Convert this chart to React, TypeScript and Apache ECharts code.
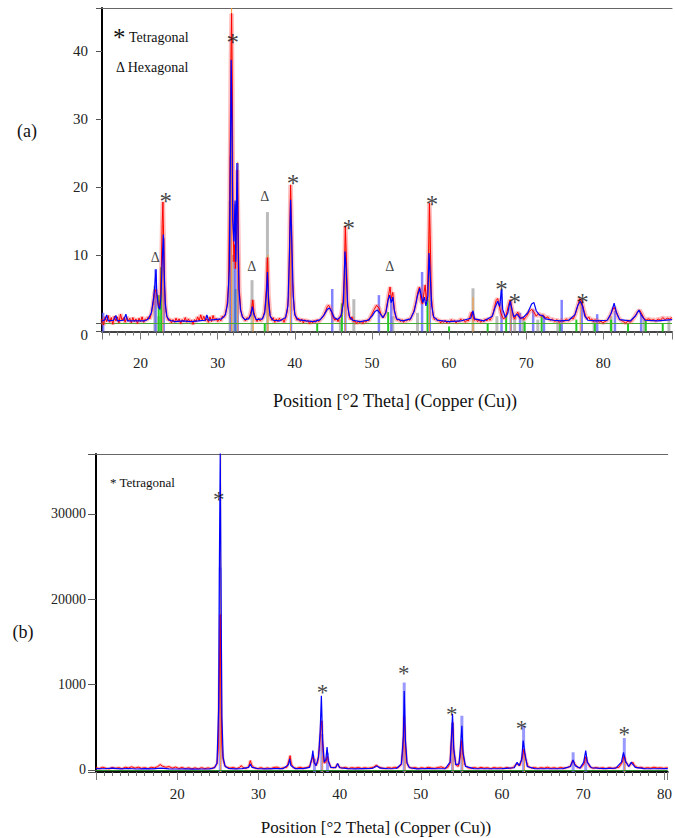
import React, { useEffect, useRef } from 'react';
import * as echarts from 'echarts';

const SERIF = '"Liberation Serif", "Times New Roman", serif';

// ---------- (a) top pattern ----------
const topMeasured: number[][] = [
  [15.0,0.6],[15.2,-0.3],[15.4,0.9],[15.6,0.2],[15.8,1.1],[16.0,0.1],[16.2,0.8],[16.4,-0.2],[16.6,1.0],[16.8,0.3],[17.0,0.9],[17.2,0.0],[17.4,1.3],[17.6,0.4],[17.8,0.8],[18.0,0.1],[18.2,0.9],[18.4,0.3],[18.6,0.7],[18.8,0.0],[19.0,0.8],[19.2,0.2],[19.4,0.6],[19.6,-0.1],[19.8,0.7],[20.0,0.2],[20.2,0.9],[20.4,0.1],[20.6,0.6],[20.8,0.4],[21.0,0.9],[21.2,0.6],[21.4,1.4],[21.6,2.6],[21.8,4.4],[21.95,4.9],[22.1,4.2],[22.25,3.0],[22.4,2.2],[22.55,3.5],[22.7,8.5],[22.8,14.5],[22.9,17.8],[23.0,12.0],[23.1,5.5],[23.25,2.0],[23.4,1.0],[23.6,0.4],[23.8,0.6],[24.0,0.0],[24.2,0.5],[24.4,0.1],[24.6,0.7],[24.8,0.2],[25.0,0.6],[25.2,-0.1],[25.4,0.5],[25.6,0.2],[25.8,0.8],[26.0,0.1],[26.2,0.6],[26.4,0.2],[26.6,0.4],[26.8,-0.2],[27.0,0.5],[27.2,0.2],[27.4,0.9],[27.6,0.3],[27.8,1.2],[28.0,0.4],[28.2,1.0],[28.4,0.3],[28.6,0.6],[28.8,0.1],[29.0,0.9],[29.2,0.2],[29.4,1.1],[29.6,0.4],[29.8,0.7],[30.0,0.2],[30.2,0.6],[30.4,0.3],[30.6,1.0],[30.8,0.8],[31.0,1.4],[31.2,2.5],[31.4,5.5],[31.55,18.0],[31.7,38.0],[31.8,45.5],[31.9,35.0],[32.0,14.0],[32.1,9.0],[32.2,11.5],[32.3,8.0],[32.45,14.0],[32.55,22.5],[32.65,15.0],[32.8,5.0],[33.0,1.8],[33.2,1.0],[33.4,0.7],[33.6,0.3],[33.8,0.8],[34.0,0.6],[34.2,1.2],[34.4,2.1],[34.55,3.4],[34.7,1.6],[34.9,0.6],[35.1,0.2],[35.3,0.7],[35.5,0.3],[35.7,0.5],[35.9,0.9],[36.1,1.8],[36.3,5.0],[36.45,9.6],[36.6,4.0],[36.8,1.1],[37.0,0.4],[37.2,0.8],[37.4,0.1],[37.6,0.6],[37.8,0.2],[38.0,0.7],[38.2,0.3],[38.4,0.6],[38.6,0.1],[38.8,0.8],[39.0,1.6],[39.2,4.0],[39.35,14.5],[39.45,20.3],[39.55,16.0],[39.7,6.0],[39.9,2.0],[40.1,0.9],[40.3,0.4],[40.5,0.7],[40.7,0.2],[40.9,0.6],[41.1,0.0],[41.3,0.5],[41.5,0.2],[41.7,0.4],[41.9,-0.1],[42.1,0.3],[42.3,0.0],[42.5,0.4],[42.7,0.1],[42.9,0.5],[43.1,0.2],[43.4,0.6],[43.7,1.0],[44.0,1.8],[44.2,2.4],[44.4,2.6],[44.6,2.1],[44.8,1.4],[45.0,0.8],[45.2,0.4],[45.4,0.7],[45.6,0.2],[45.8,0.8],[46.0,1.2],[46.2,2.5],[46.4,6.5],[46.55,14.2],[46.7,9.0],[46.85,3.0],[47.0,1.2],[47.2,0.5],[47.4,0.9],[47.6,0.2],[47.8,0.3],[48.0,-0.1],[48.2,0.3],[48.4,0.0],[48.6,0.3],[48.8,-0.1],[49.0,0.4],[49.2,0.1],[49.4,0.5],[49.6,0.3],[49.8,0.9],[50.0,1.3],[50.3,2.0],[50.6,2.6],[50.9,2.2],[51.2,1.2],[51.5,0.8],[51.8,1.6],[52.0,3.0],[52.2,4.4],[52.35,5.3],[52.5,3.6],[52.7,4.5],[52.9,2.0],[53.1,0.8],[53.3,0.4],[53.5,0.6],[53.7,0.2],[53.9,0.5],[54.1,0.1],[54.3,0.4],[54.5,0.3],[54.7,0.6],[54.9,0.4],[55.1,0.9],[55.4,1.6],[55.7,3.0],[55.95,4.6],[56.15,5.3],[56.35,3.4],[56.55,2.8],[56.75,4.5],[56.9,5.6],[57.05,3.2],[57.2,5.0],[57.35,11.0],[57.45,17.6],[57.55,13.0],[57.7,4.0],[57.9,1.2],[58.1,0.5],[58.3,0.7],[58.5,0.3],[58.7,0.5],[58.9,0.0],[59.1,0.3],[59.3,0.1],[59.5,0.4],[59.7,0.0],[59.9,0.3],[60.1,0.1],[60.3,0.5],[60.5,0.2],[60.7,0.4],[60.9,0.0],[61.1,0.3],[61.3,0.2],[61.5,0.6],[61.7,0.3],[61.9,0.5],[62.1,0.1],[62.3,0.4],[62.5,0.3],[62.7,0.9],[62.9,1.6],[63.1,1.0],[63.3,0.4],[63.5,0.6],[63.7,0.2],[63.9,0.5],[64.1,0.1],[64.3,0.4],[64.5,0.2],[64.7,0.6],[64.9,0.3],[65.1,0.7],[65.3,0.4],[65.5,0.8],[65.7,1.4],[65.9,2.4],[66.1,3.3],[66.3,3.6],[66.5,2.6],[66.7,1.5],[66.9,0.9],[67.1,0.6],[67.3,0.9],[67.5,1.6],[67.7,2.6],[67.9,3.4],[68.1,2.4],[68.3,1.0],[68.5,0.6],[68.7,1.2],[68.9,1.6],[69.1,1.0],[69.3,0.6],[69.5,0.9],[69.7,0.5],[69.9,0.8],[70.1,1.1],[70.4,1.7],[70.7,2.0],[71.0,1.6],[71.3,1.0],[71.6,1.4],[71.9,1.0],[72.2,1.2],[72.5,0.7],[72.8,0.9],[73.1,0.4],[73.4,0.6],[73.7,0.2],[74.0,0.5],[74.3,0.1],[74.6,0.4],[74.9,0.2],[75.2,0.6],[75.5,0.3],[75.8,0.7],[76.1,0.6],[76.4,1.4],[76.7,2.6],[76.95,3.6],[77.2,3.2],[77.45,2.0],[77.7,1.0],[77.9,0.6],[78.1,0.9],[78.3,0.4],[78.5,0.6],[78.7,0.2],[78.9,0.5],[79.1,0.3],[79.3,0.4],[79.5,0.1],[79.7,0.3],[79.9,0.0],[80.2,0.2],[80.5,0.4],[80.8,0.9],[81.1,1.7],[81.4,2.3],[81.7,1.6],[82.0,0.7],[82.3,0.4],[82.6,0.2],[82.9,0.0],[83.2,0.3],[83.5,0.1],[83.8,0.5],[84.1,1.0],[84.4,1.6],[84.7,1.9],[85.0,1.3],[85.3,0.6],[85.6,0.5],[85.9,0.6],[86.2,0.4],[86.5,0.5],[86.8,0.3],[87.1,0.6],[87.4,0.4],[87.7,0.8],[88.0,0.5],[88.3,0.7],[88.6,0.6],[88.9,0.8],
];

const topCalculated: number[][] = [
  [15.0,0.3],[15.4,0.5],[15.6,1.2],[15.8,0.3],[16.5,0.4],[16.8,1.1],[17.0,0.3],[17.8,0.4],[18.1,1.3],[18.3,0.3],[19.5,0.3],[20.5,0.3],[21.0,0.6],[21.4,1.5],[21.7,3.8],[21.85,5.5],[22.0,7.9],[22.1,4.5],[22.3,2.5],[22.5,2.0],[22.65,4.0],[22.8,9.0],[22.95,13.0],[23.05,8.0],[23.2,3.0],[23.4,1.0],[23.7,0.4],[24.5,0.2],[25.5,0.3],[26.5,0.2],[27.5,0.3],[28.4,0.4],[28.6,1.2],[28.8,0.4],[29.6,0.5],[30.5,0.6],[31.0,1.2],[31.3,3.0],[31.5,8.0],[31.65,24.5],[31.75,38.7],[31.85,30.0],[31.95,15.0],[32.1,12.0],[32.25,18.0],[32.35,9.0],[32.5,23.5],[32.6,16.0],[32.75,5.0],[32.95,2.0],[33.2,0.9],[33.5,0.5],[34.0,0.6],[34.3,1.2],[34.5,2.4],[34.7,1.2],[35.0,0.5],[35.8,0.6],[36.1,1.5],[36.3,4.0],[36.45,7.5],[36.6,3.0],[36.8,1.0],[37.2,0.4],[38.0,0.3],[38.8,0.8],[39.1,2.5],[39.3,10.0],[39.45,18.1],[39.6,12.0],[39.8,4.0],[40.0,1.2],[40.4,0.5],[41.5,0.3],[42.5,0.2],[43.3,0.5],[43.8,1.2],[44.2,2.0],[44.5,2.2],[44.8,1.6],[45.1,0.8],[45.5,0.5],[46.0,1.0],[46.3,3.0],[46.5,10.5],[46.65,8.0],[46.85,2.5],[47.1,0.9],[47.5,0.4],[48.5,0.2],[49.5,0.4],[50.0,1.0],[50.4,1.7],[50.7,1.9],[51.0,1.5],[51.4,0.8],[51.8,1.5],[52.1,3.4],[52.3,4.1],[52.5,3.0],[52.7,3.8],[52.9,1.8],[53.2,0.6],[54.0,0.3],[55.0,0.6],[55.5,1.8],[55.9,4.0],[56.2,5.1],[56.4,4.0],[56.6,3.0],[56.8,3.8],[57.0,2.5],[57.25,4.0],[57.4,10.3],[57.55,7.0],[57.75,2.5],[58.0,0.9],[58.5,0.4],[60.0,0.2],[61.5,0.3],[62.8,0.7],[63.1,1.8],[63.3,0.6],[64.5,0.3],[65.6,1.0],[66.0,2.4],[66.3,3.2],[66.55,2.4],[66.8,4.9],[66.95,2.0],[67.3,0.8],[67.6,1.4],[67.9,3.2],[68.15,2.0],[68.4,0.9],[68.8,1.3],[69.2,0.7],[69.6,0.8],[70.2,1.5],[70.7,2.8],[71.0,3.0],[71.3,1.8],[71.7,1.2],[72.1,1.1],[72.5,0.6],[73.5,0.4],[74.5,0.3],[75.5,0.4],[76.3,1.2],[76.7,2.6],[77.0,3.2],[77.3,2.5],[77.6,1.0],[78.0,0.4],[79.0,0.3],[80.5,0.4],[81.0,1.4],[81.4,2.9],[81.7,1.5],[82.1,0.5],[83.5,0.3],[84.2,1.1],[84.6,1.9],[84.9,1.2],[85.4,0.4],[87.0,0.3],[88.9,0.5],
];

const topOrangeSticks: number[][] = [
  [22.9,14.5],[31.8,47],[32.6,23.7],[34.6,3.0],[36.5,10.0],[39.45,20.3],[46.55,14.2],[57.45,17.6],[63.1,3.8],[68.0,3.0],[77.0,3.5],
];
const topBlueSticks: number[][] = [
  [15.15,1.5],[21.95,7.9],[23.0,12.5],[31.7,24.5],[32.25,17.5],[32.6,23.5],[39.5,14.5],[44.85,5.0],[46.55,10.5],[50.9,4.1],[52.5,3.5],[56.5,7.5],[57.5,10.0],[66.8,4.9],[68.0,3.2],[69.2,1.5],[70.9,2.0],[72.3,1.0],[74.6,3.4],[77.2,3.3],[79.2,1.3],[81.5,1.8],[84.9,1.3],
];
const topGreySticks: number[][] = [
  [21.85,5.5],[22.35,1.0],[31.6,18.0],[32.0,10.0],[34.45,6.3],[36.45,16.3],[45.9,0.5],[47.65,3.5],[52.7,1.0],[55.9,1.5],[63.1,5.1],[66.2,1.0],[68.5,1.2],[69.6,0.8],[71.5,0.5],[74.1,0.3],[78.8,0.5],[81.0,1.0],[85.3,0.5],[88.5,0.4],
];
const topGreenSticks: number[][] = [
  [22.35,4.1],[22.67,8.2],[32.3,5.0],[36.1,0.0],[42.9,0.0],[46.1,2.9],[52.1,1.6],[57.2,3.6],[60.0,-0.5],[65.0,0.0],[67.4,1.0],[69.8,0.2],[72.0,1.0],[74.4,0.0],[76.5,0.5],[78.9,0.0],[81.0,0.5],[83.2,0.0],[85.5,0.3],[87.7,0.0],
];
const topStars: number[][] = [
  [23.25,18.6],[31.95,42.0],[39.75,21.2],[47.0,14.6],[57.8,18.1],[66.8,5.6],[68.5,3.8],[77.3,3.8],
];
const topDeltas: number[][] = [
  [21.9,9.6],[34.4,8.3],[36.1,18.6],[52.3,8.3],
];

// ---------- (b) bottom pattern ----------
const bottomMeasured: number[][] = [
  [10.0,250],[10.4,150],[10.8,300],[11.2,200],[11.6,120],[12.0,280],[12.4,180],[12.8,260],[13.2,140],[13.6,300],[14.0,220],[14.4,360],[14.8,200],[15.2,320],[15.6,180],[16.0,260],[16.4,150],[16.8,300],[17.2,230],[17.6,380],[17.9,620],[18.2,420],[18.6,300],[19.0,380],[19.4,200],[19.8,330],[20.2,160],[20.6,280],[21.0,140],[21.4,250],[21.8,120],[22.2,240],[22.6,110],[23.0,260],[23.4,140],[23.8,230],[24.2,150],[24.6,300],[24.9,700],[25.05,2400],[25.2,12000],[25.3,18200],[25.4,9000],[25.5,3000],[25.65,1200],[25.85,500],[26.1,330],[26.5,200],[26.9,280],[27.3,150],[27.7,300],[27.9,500],[28.1,260],[28.5,180],[28.8,400],[29.0,1090],[29.2,500],[29.5,250],[29.9,150],[30.3,260],[30.7,140],[31.1,230],[31.5,150],[31.9,280],[32.3,320],[32.7,160],[33.1,250],[33.5,300],[33.75,1100],[33.9,1670],[34.05,700],[34.3,260],[34.7,180],[35.1,300],[35.5,200],[35.9,260],[36.3,400],[36.6,1200],[36.75,1670],[36.9,800],[37.1,500],[37.3,900],[37.5,2500],[37.65,4500],[37.8,5750],[37.95,2300],[38.1,800],[38.3,900],[38.5,1560],[38.65,900],[38.9,320],[39.2,250],[39.5,300],[39.75,700],[39.95,350],[40.3,200],[40.7,300],[41.1,160],[41.5,260],[41.9,200],[42.3,280],[42.7,170],[43.1,250],[43.5,180],[43.9,260],[44.2,320],[44.5,550],[44.8,350],[45.2,220],[45.6,160],[46.0,270],[46.4,190],[46.8,300],[47.2,250],[47.6,600],[47.8,2500],[47.95,6340],[48.1,3000],[48.25,900],[48.5,350],[48.9,200],[49.3,270],[49.7,150],[50.1,260],[50.5,170],[50.9,300],[51.3,220],[51.7,180],[52.1,270],[52.5,350],[52.9,200],[53.3,260],[53.6,800],[53.8,4000],[53.92,5560],[54.05,2400],[54.3,600],[54.6,400],[54.85,1500],[55.0,3420],[55.15,2200],[55.4,600],[55.8,250],[56.2,200],[56.6,280],[57.0,170],[57.4,290],[57.8,200],[58.2,260],[58.6,150],[59.0,270],[59.4,200],[59.8,250],[60.2,170],[60.6,280],[61.0,180],[61.4,300],[61.8,700],[62.0,600],[62.2,500],[62.5,1500],[62.7,2450],[62.9,1300],[63.2,400],[63.6,220],[64.0,280],[64.4,170],[64.8,260],[65.2,200],[65.6,300],[66.0,180],[66.4,250],[66.8,170],[67.2,280],[67.6,200],[68.0,260],[68.4,400],[68.7,1100],[68.95,700],[69.3,280],[69.7,250],[70.1,700],[70.3,1550],[70.5,900],[70.8,350],[71.2,200],[71.6,270],[72.0,180],[72.4,250],[72.8,150],[73.2,270],[73.6,170],[74.0,250],[74.4,300],[74.8,900],[75.05,1670],[75.25,900],[75.6,400],[75.9,700],[76.1,900],[76.3,500],[76.7,250],[77.1,300],[77.5,180],[77.9,260],[78.3,200],[78.7,300],[79.1,220],[79.5,250],[79.9,180],[80.4,250],
];

const bottomCalculated: number[][] = [
  [10.0,150],[11.0,130],[12.0,200],[13.0,110],[14.0,160],[15.0,100],[16.0,150],[17.0,120],[18.0,200],[19.0,120],[20.0,100],[21.0,120],[22.0,80],[23.0,100],[24.0,120],[24.6,250],[24.9,800],[25.1,7200],[25.2,25000],[25.3,37500],[25.4,20000],[25.5,6300],[25.65,1500],[25.9,400],[26.3,180],[27.0,120],[28.0,150],[28.8,300],[29.0,700],[29.2,300],[30.0,130],[31.0,110],[32.0,150],[33.0,140],[33.7,600],[33.85,1300],[34.0,500],[34.5,150],[35.5,140],[36.3,300],[36.6,1500],[36.7,2250],[36.85,900],[37.1,500],[37.4,1500],[37.6,4500],[37.75,8670],[37.9,3500],[38.1,900],[38.3,1200],[38.45,2680],[38.6,1100],[38.9,300],[39.5,250],[39.75,750],[40.0,250],[41.0,140],[42.0,120],[43.0,150],[44.0,160],[44.6,450],[45.0,200],[46.0,130],[47.0,160],[47.6,700],[47.85,4000],[47.95,9250],[48.1,3500],[48.3,800],[48.6,250],[49.5,120],[51.0,160],[52.0,130],[53.0,150],[53.6,900],[53.8,4500],[53.9,6530],[54.05,2500],[54.3,600],[54.7,700],[54.9,3000],[55.05,5170],[55.2,2000],[55.5,400],[56.5,150],[58.0,130],[60.0,150],[61.5,250],[61.85,900],[62.1,500],[62.4,1200],[62.6,3420],[62.8,2000],[63.1,400],[64.0,150],[66.0,130],[67.5,150],[68.4,400],[68.75,1150],[69.0,500],[69.6,200],[70.05,900],[70.3,2250],[70.5,900],[71.0,250],[72.5,140],[74.0,200],[74.7,900],[74.95,2060],[75.2,1000],[75.6,400],[75.9,900],[76.05,700],[76.4,300],[77.5,150],[79.0,130],[80.4,150],
];

const bottomBlueSticks: number[][] = [
  [25.3,23700],[36.9,1300],[37.8,4200],[38.5,2000],[47.95,10230],[53.9,5500],[55.05,6340],[62.65,5170],[68.75,2060],[70.3,1500],[75.05,3730],
];
const bottomOrangeSticks: number[][] = [
  [25.35,38000],[37.85,1700],[48.05,3000],[53.95,2000],[55.1,2500],[62.75,1800],[75.1,1200],
];
const bottomStars: number[][] = [
  [25.1,32200],[37.9,9650],[47.9,11900],[53.8,7050],[62.4,5400],[75.05,4700],
];

// ---------- axis labels ----------
const topXTickLabels = [20, 30, 40, 50, 60, 70, 80];
const topYTickLabels = [0, 10, 20, 30, 40];
const bottomXTickLabels = [20, 30, 40, 50, 60, 70, 80];
const bottomYTickLabels: Record<number, string> = { 0: '0', 10000: '1000', 20000: '20000', 30000: '30000' };
const xTitle = 'Position [°2 Theta] (Copper (Cu))';

function stickSeries(data: number[][], color: string, width: number, gi: number, z: number) {
  return {
    type: 'custom',
    xAxisIndex: gi * 3,
    yAxisIndex: gi,
    data,
    encode: { x: 0, y: 1 },
    silent: true,
    z,
    renderItem: (params: any, api: any) => {
      const x = api.value(0);
      const h = api.value(1);
      const p = api.coord([x, h]);
      const cs = params.coordSys;
      const bottom = cs.y + cs.height;
      return {
        type: 'line',
        shape: { x1: p[0], y1: bottom, x2: p[0], y2: Math.max(p[1], cs.y) },
        style: { stroke: color, lineWidth: width },
      };
    },
  };
}

function lineSeries(data: number[][], color: string, width: number, gi: number, z: number, extra: any = {}) {
  return {
    type: 'line',
    xAxisIndex: gi * 3,
    yAxisIndex: gi,
    data,
    showSymbol: false,
    symbol: 'none',
    silent: true,
    z,
    lineStyle: { color, width },
    ...extra,
  };
}

function annotSeries(data: number[][], text: string, fontSize: number, gi: number, offsetY: number) {
  return {
    type: 'scatter',
    xAxisIndex: gi * 3,
    yAxisIndex: gi,
    symbolSize: 1,
    itemStyle: { color: 'rgba(0,0,0,0)' },
    silent: true,
    z: 20,
    data: data.map((d) => ({ value: d, name: text })),
    label: {
      show: true,
      position: 'inside',
      offset: [0, offsetY],
      formatter: (p: any) => p.name,
      fontSize,
      fontFamily: SERIF,
      color: '#111',
    },
  };
}

function xAxes(gi: number, min: number, max: number, labels: number[], margin: number) {
  const common = { gridIndex: gi, type: 'value', min, max, splitLine: { show: false } };
  return [
    {
      ...common,
      position: 'bottom',
      splitNumber: 7,
      axisLine: { show: true, onZero: false, lineStyle: { color: gi === 0 ? '#444' : '#111', width: 2 } },
      axisTick: { show: true, length: 8, lineStyle: { color: '#777', width: 1 } },
      axisLabel: {
        margin,
        fontSize: 15,
        fontFamily: SERIF,
        color: '#222',
        showMinLabel: true,
        showMaxLabel: true,
        formatter: (v: number) => (labels.indexOf(v) >= 0 ? String(v) : ''),
      },
    },
    {
      ...common,
      position: 'bottom',
      interval: 1,
      axisLine: { show: false, onZero: false },
      axisTick: { show: true, length: 4, lineStyle: { color: '#777', width: 1 } },
      axisLabel: { show: false },
    },
    {
      ...common,
      position: 'top',
      axisLine: { show: true, onZero: false, lineStyle: { color: '#666', width: 1 } },
      axisTick: { show: false },
      axisLabel: { show: false },
    },
  ];
}

export default function App() {
  const ref = useRef<HTMLDivElement>(null);
  useEffect(() => {
    if (!ref.current) return;
    const chart = echarts.init(ref.current, undefined, { renderer: 'svg' });
    const option: any = {
      animation: false,
      backgroundColor: '#ffffff',
      grid: [
        { left: 102, top: 8, right: 0, height: 323.5 },
        { left: 96, top: 454, right: 0, height: 318 },
      ],
      xAxis: [...xAxes(0, 15, 88.9, topXTickLabels, 24), ...xAxes(1, 10, 80.4, bottomXTickLabels, 14)],
      yAxis: [
        {
          gridIndex: 0,
          type: 'value',
          min: -1.25,
          max: 46.3,
          splitNumber: 5,
          splitLine: { show: false },
          axisLine: { show: true, onZero: false, lineStyle: { color: '#000', width: 2 } },
          axisTick: { show: true, length: 6, lineStyle: { color: '#555' } },
          axisLabel: {
            margin: 14,
            fontSize: 15,
            fontFamily: SERIF,
            color: '#222',
            formatter: (v: number) =>
              v === 0 ? '{z|0}' : topYTickLabels.indexOf(v) >= 0 ? String(v) : '',
            rich: { z: { fontSize: 15, fontFamily: SERIF, color: '#222', padding: [24, 0, 0, 0] } },
          },
        },
        {
          gridIndex: 1,
          type: 'value',
          min: -250,
          max: 37000,
          splitNumber: 4,
          splitLine: { show: false },
          axisLine: { show: true, onZero: false, lineStyle: { color: '#000', width: 2 } },
          axisTick: { show: true, length: 8, lineStyle: { color: '#555' } },
          axisLabel: {
            margin: 10,
            fontSize: 14,
            fontFamily: SERIF,
            color: '#222',
            formatter: (v: number) => bottomYTickLabels[v] ?? '',
          },
        },
      ],
      series: [
        // top
        stickSeries(topGreySticks, 'rgba(150,150,150,0.65)', 3, 0, 2),
        stickSeries(topGreenSticks, '#22cc22', 2, 0, 3),
        stickSeries(topBlueSticks, 'rgba(90,90,255,0.75)', 2.5, 0, 3),
        stickSeries(topOrangeSticks, '#ff9933', 1, 0, 4),
        lineSeries(topMeasured, 'rgba(255,70,70,0.35)', 4.5, 0, 5),
        lineSeries(topMeasured, '#ff0000', 1, 0, 6),
        lineSeries(topCalculated, '#0000ff', 1.2, 0, 7, {
          markLine: {
            silent: true,
            symbol: ['none', 'none'],
            label: { show: false },
            lineStyle: { color: '#44aa33', width: 1, type: 'solid' },
            data: [{ yAxis: 0 }],
          },
        }),
        annotSeries(topStars, '*', 25, 0, 5),
        annotSeries(topDeltas, 'Δ', 14, 0, 0),
        // bottom
        stickSeries(bottomBlueSticks, 'rgba(110,110,255,0.7)', 3, 1, 2),
        stickSeries(bottomOrangeSticks, '#ff9933', 1, 1, 4),
        lineSeries(bottomMeasured, 'rgba(255,70,70,0.35)', 3, 1, 5),
        lineSeries(bottomMeasured, '#ff0000', 1, 1, 6),
        lineSeries(bottomCalculated, '#0000ff', 1.2, 1, 7, {
          markLine: {
            silent: true,
            symbol: ['none', 'none'],
            label: { show: false },
            lineStyle: { color: '#2a8a2a', width: 1, type: 'solid' },
            data: [{ yAxis: 0 }],
          },
        }),
        annotSeries(bottomStars, '*', 23, 1, 5),
      ],
      graphic: [
        { type: 'text', x: 27, y: 131, style: { text: '(a)', font: `18px ${SERIF}`, fill: '#111', textAlign: 'center', textVerticalAlign: 'middle' } },
        { type: 'text', x: 23, y: 632, style: { text: '(b)', font: `18px ${SERIF}`, fill: '#111', textAlign: 'center', textVerticalAlign: 'middle' } },
        { type: 'text', x: 113, y: 37, style: { text: '*', font: `25px ${SERIF}`, fill: '#111', textAlign: 'left', textVerticalAlign: 'middle' } },
        { type: 'text', x: 129, y: 37, style: { text: 'Tetragonal', font: `14px ${SERIF}`, fill: '#111', textAlign: 'left', textVerticalAlign: 'middle' } },
        { type: 'text', x: 116, y: 67, style: { text: 'Δ Hexagonal', font: `14px ${SERIF}`, fill: '#111', textAlign: 'left', textVerticalAlign: 'middle' } },
        { type: 'text', x: 110, y: 482, style: { text: '* Tetragonal', font: `13px ${SERIF}`, fill: '#111', textAlign: 'left', textVerticalAlign: 'middle' } },
        { type: 'text', x: 395, y: 401, style: { text: xTitle, font: `18px ${SERIF}`, fill: '#111', textAlign: 'center', textVerticalAlign: 'middle' } },
        { type: 'text', x: 376, y: 827, style: { text: xTitle, font: `17px ${SERIF}`, fill: '#111', textAlign: 'center', textVerticalAlign: 'middle' } },
      ],
    };
    chart.setOption(option);
    return () => chart.dispose();
  }, []);
  return <div ref={ref} style={{ position: 'absolute', left: 0, top: 0, width: 675, height: 838, background: '#fff' }} />;
}
